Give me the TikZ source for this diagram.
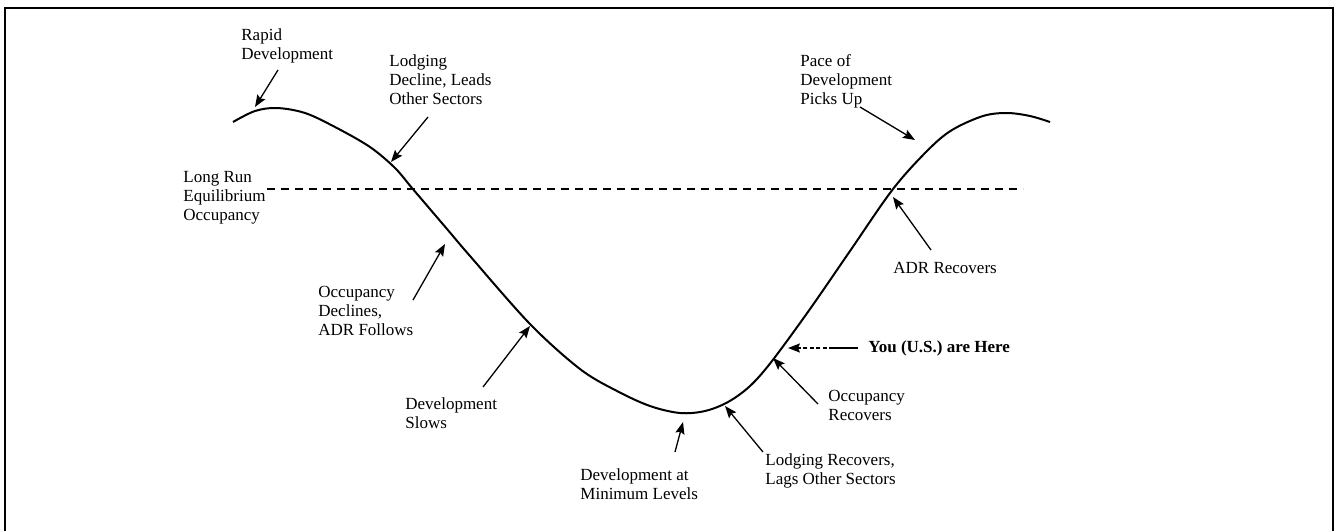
\documentclass[tikz,border=0pt]{standalone}
\usepackage{fontspec}
\setmainfont{Liberation Serif}
\usetikzlibrary{arrows.meta}
\begin{document}
\begin{tikzpicture}[x=0.5pt,y=-0.5pt,
  lbl/.style={inner sep=0pt,align=left,anchor=north west,font=\fontsize{8.5}{9.5}\selectfont},
  lblone/.style={inner sep=0pt,anchor=west,font=\fontsize{8.5}{9.5}\selectfont},
  arr/.style={line width=0.65pt,-{Stealth[length=6pt,width=4.6pt,inset=1pt]}},
  curve/.style={line width=1pt},
  eqline/.style={line width=0.7pt,dash pattern=on 4pt off 3pt},
  frame/.style={line width=1pt}]
\useasboundingbox (0,0) rectangle (1336,531);
% frame (open at the bottom)
\coordinate (fbl) at (5,531);
\coordinate (ftl) at (5,8);
\coordinate (ftr) at (1333,8);
\coordinate (fbr) at (1333,531);
\draw[frame] (fbl) -- (ftl) -- (ftr) -- (fbr);
% equilibrium line
\coordinate (eqL) at (267,189);
\coordinate (eqR) at (1023,189);
\draw[eqline] (eqL) -- (eqR);
% cycle curve
\draw[curve] plot[smooth,tension=0.55] coordinates {
 (233,122) (255,111) (277,108) (305,113) (335,127) (370,147) (395,168)
 (412,188) (447,229) (470,256) (530,324) (580,369) (617,391) (650,406)
 (680,413) (705,411) (728,402) (750,386) (772,361) (810,309) (850,251)
 (893,189) (928,150) (952,130) (983,116) (1007,113) (1030,116) (1050,122)};
% labels
\node[lbl] (rapid) at (241,28) {Rapid\\Development};
\node[lbl] (lodgdec) at (389,54) {Lodging\\Decline, Leads\\Other Sectors};
\node[lbl] (pace) at (800,54) {Pace of\\Development\\Picks Up};
\node[lbl] (lrun) at (183,171) {Long Run\\Equilibrium\\Occupancy};
\node[lbl] (occdec) at (318,286) {Occupancy\\Declines,\\ADR Follows};
\node[lbl] (devslow) at (405,397) {Development\\Slows};
\node[lbl] (devmin) at (580,468) {Development at\\Minimum Levels};
\node[lbl] (lodgrec) at (765,453) {Lodging Recovers,\\Lags Other Sectors};
\node[lbl] (occrec) at (828,390) {Occupancy\\Recovers};
\node[lblone,font=\fontsize{8.5}{9.5}\selectfont\bfseries] (you) at (868,348) {You (U.S.) are Here};
\node[lblone] (adr) at (893,268) {ADR Recovers};
% arrow end points
\coordinate (a1s) at (278,70);  \coordinate (a1e) at (255,107);
\coordinate (a2s) at (428,117); \coordinate (a2e) at (391,162);
\coordinate (a3s) at (413,300); \coordinate (a3e) at (445,244);
\coordinate (a4s) at (483,387); \coordinate (a4e) at (530,326);
\coordinate (a5s) at (675,452); \coordinate (a5e) at (683,422);
\coordinate (a6s) at (763,452); \coordinate (a6e) at (725,406);
\coordinate (a7s) at (818,404); \coordinate (a7e) at (773,358);
\coordinate (a8s) at (858,348); \coordinate (a8m) at (833,348); \coordinate (a8e) at (788,348);
\coordinate (a9s) at (931,250); \coordinate (a9e) at (893,197);
\coordinate (a10s) at (860,107); \coordinate (a10e) at (915,140);
% arrows
\draw[arr] (a1s) -- (a1e);
\draw[arr] (a2s) -- (a2e);
\draw[arr] (a3s) -- (a3e);
\draw[arr] (a4s) -- (a4e);
\draw[arr] (a5s) -- (a5e);
\draw[arr] (a6s) -- (a6e);
\draw[arr] (a7s) -- (a7e);
\draw[line width=0.65pt] (a8s) -- (a8m);
\draw[arr,dash pattern=on 2pt off 1.2pt] (a8m) -- (a8e);
\draw[arr] (a9s) -- (a9e);
\draw[arr] (a10s) -- (a10e);
\end{tikzpicture}
\end{document}
